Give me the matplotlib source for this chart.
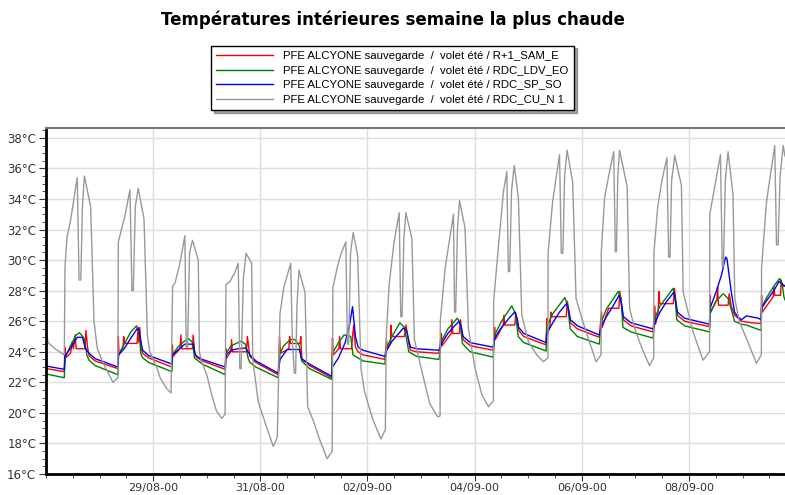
import matplotlib
matplotlib.use('Agg')
import matplotlib.pyplot as plt
from matplotlib.ticker import MultipleLocator, FixedLocator
import numpy as np

# one block per day starting 27/08 00:00 : (hour of the day, temperature)
red_days = [
    [(0, 22.9), (8.2, 22.7), (8.4, 24.3), (8.7, 23.6), (11.0, 23.9), (11.8, 24.65), (12.3, 24.2),
     (13.0, 25.1), (13.5, 24.2), (17.5, 24.2), (17.9, 25.4), (18.6, 24.3), (19.3, 23.75), (22.0, 23.4)],
    [(8.2, 22.9), (8.4, 25.0), (8.7, 23.8), (10.5, 24.3), (10.8, 25.0), (11.2, 24.55), (16.8, 24.55),
     (17.2, 25.6), (17.6, 24.6), (18.0, 25.6), (18.6, 24.2), (19.3, 23.9), (22.0, 23.6)],
    [(8.4, 23.0), (8.6, 24.45), (8.9, 23.7), (12.0, 24.2), (12.4, 25.1), (12.8, 24.2), (17.6, 24.2),
     (17.9, 25.1), (18.7, 23.8), (19.5, 23.65), (22.0, 23.4)],
    [(8.3, 22.85), (8.6, 24.2), (8.9, 23.6), (10.8, 24.0), (11.1, 24.8), (11.5, 24.0), (17.8, 24.0),
     (18.2, 25.0), (19.3, 23.7), (22.0, 23.3)],
    [(8.0, 22.5), (8.6, 25.0), (9.0, 23.9), (12.8, 24.2), (13.1, 25.0), (13.5, 24.55), (17.8, 24.55),
     (18.1, 25.0), (18.6, 23.5), (22.0, 23.1)],
    [(7.9, 22.3), (8.3, 24.9), (8.7, 23.8), (11.2, 24.2), (11.5, 25.0), (11.9, 24.2), (16.8, 24.2),
     (17.8, 25.75), (18.6, 24.3), (19.8, 24.0), (22.0, 23.8)],
    [(7.8, 23.5), (8.5, 24.8), (8.9, 24.2), (10.3, 24.6), (10.5, 25.75), (10.9, 25.0), (16.5, 25.0),
     (17.2, 25.75), (18.7, 24.4), (19.3, 24.1), (22.0, 24.0)],
    [(8.0, 23.9), (9.1, 25.2), (9.4, 24.4), (13.5, 25.2), (13.8, 26.1), (14.2, 25.2), (17.2, 25.2),
     (17.6, 26.1), (18.8, 24.8), (22.0, 24.4)],
    [(8.3, 24.1), (9.0, 25.6), (9.3, 24.8), (12.8, 25.75), (13.1, 26.4), (13.5, 25.75), (18.0, 25.75),
     (18.4, 26.55), (19.7, 25.4), (22.0, 25.0)],
    [(8.0, 24.45), (8.3, 26.2), (8.6, 25.1), (9.8, 25.8), (10.1, 26.6), (10.5, 26.3), (17.0, 26.3),
     (17.5, 27.3), (18.9, 25.9), (22.0, 25.5)],
    [(7.8, 24.95), (8.8, 26.6), (9.1, 25.6), (12.0, 26.85), (16.6, 26.85), (17.0, 27.95), (18.6, 26.1),
     (22.0, 25.7)],
    [(7.9, 25.3), (8.7, 27.0), (9.0, 25.8), (10.2, 26.6), (10.5, 27.95), (10.9, 27.15), (17.0, 27.15),
     (17.5, 28.15), (18.8, 26.4), (22.0, 26.0)],
    [(9.2, 25.65), (9.4, 27.7), (9.7, 26.6), (12.5, 27.4), (12.8, 28.25), (13.2, 27.05), (17.5, 27.05),
     (18.0, 27.8), (18.9, 27.0), (20.4, 26.4), (23.5, 26.0)],
    [(4.0, 25.9), (8.3, 25.85), (8.5, 27.7), (8.8, 26.6), (13.7, 27.6), (14.0, 28.25), (14.4, 27.7),
     (17.0, 27.7), (17.3, 28.7), (17.6, 28.3), (19.0, 28.3)],
]

green_days = [
    [(0, 22.55), (8.2, 22.3), (8.5, 23.6), (11.0, 24.4), (13.5, 25.1), (15.0, 25.25), (17.0, 24.9),
     (18.3, 23.8), (19.3, 23.45), (22.0, 23.1)],
    [(8.2, 22.5), (8.5, 23.8), (11.0, 24.5), (14.0, 25.3), (16.5, 25.7), (17.8, 25.3), (18.4, 23.9),
     (19.3, 23.6), (22.0, 23.3)],
    [(8.4, 22.7), (8.7, 23.8), (11.0, 24.3), (14.0, 24.7), (16.0, 24.85), (17.7, 24.6), (18.5, 23.6),
     (22.0, 23.2)],
    [(8.3, 22.5), (8.6, 23.9), (11.0, 24.4), (15.5, 24.7), (17.3, 24.5), (18.5, 23.6), (19.3, 23.3),
     (22.0, 23.0)],
    [(8.0, 22.3), (8.8, 23.9), (10.5, 24.4), (13.5, 24.8), (15.5, 24.8), (17.5, 24.4), (18.5, 23.4),
     (22.0, 22.9)],
    [(7.9, 22.2), (8.3, 23.9), (11.0, 24.6), (13.5, 25.1), (16.5, 25.0), (17.5, 23.8), (22.0, 23.4)],
    [(7.8, 23.2), (8.6, 24.3), (11.0, 25.0), (14.5, 25.9), (16.5, 25.6), (18.5, 24.0), (22.0, 23.7)],
    [(8.0, 23.5), (9.2, 24.7), (12.0, 25.5), (16.2, 26.2), (17.5, 25.9), (18.5, 24.55), (22.0, 24.0)],
    [(8.3, 23.65), (9.0, 25.1), (12.0, 26.0), (16.6, 27.0), (18.3, 26.5), (19.5, 25.0), (22.0, 24.6)],
    [(8.0, 24.05), (8.3, 25.65), (11.0, 26.5), (16.4, 27.55), (17.7, 27.0), (18.8, 25.5), (22.0, 25.0)],
    [(7.8, 24.5), (8.8, 26.0), (11.0, 26.8), (16.3, 27.95), (17.6, 27.5), (18.4, 25.6), (22.0, 25.3)],
    [(7.9, 24.9), (8.7, 26.2), (11.0, 27.0), (16.9, 28.15), (17.8, 27.6), (18.5, 26.1), (22.0, 25.7)],
    [(9.2, 25.3), (9.4, 26.5), (12.0, 27.3), (15.3, 27.8), (17.5, 27.5), (18.8, 26.85), (20.4, 26.0),
     (23.5, 25.8)],
    [(1.7, 25.75), (8.3, 25.4), (8.5, 26.9), (11.0, 27.6), (14.0, 28.3), (16.6, 28.8), (17.8, 28.4),
     (18.5, 27.6), (19.0, 27.4)],
]

blue_days = [
    [(0, 23.07), (8.2, 22.85), (8.5, 23.7), (11.0, 24.25), (14.0, 24.95), (16.3, 24.95), (17.7, 24.2),
     (19.3, 23.9), (22.0, 23.55)],
    [(8.2, 23.0), (8.5, 23.8), (11.0, 24.2), (14.0, 24.9), (17.0, 25.55), (17.7, 25.4), (18.7, 24.5),
     (19.3, 24.1), (22.0, 23.75)],
    [(8.4, 23.2), (8.7, 23.8), (11.0, 24.1), (14.2, 24.5), (18.0, 24.5), (18.7, 23.9), (19.5, 23.7),
     (22.0, 23.5)],
    [(8.3, 23.0), (8.6, 23.8), (11.0, 24.1), (14.0, 24.2), (17.5, 24.25), (19.3, 23.8), (22.0, 23.4)],
    [(8.0, 22.6), (8.8, 23.5), (12.0, 24.15), (17.5, 24.15), (18.5, 23.55), (22.0, 23.2)],
    [(7.9, 22.4), (8.3, 23.0), (11.0, 23.6), (14.0, 24.6), (16.0, 25.8), (17.3, 26.95), (18.6, 25.0),
     (19.8, 24.3), (22.0, 24.1)],
    [(7.8, 23.7), (8.6, 24.1), (11.0, 24.7), (14.0, 25.2), (16.0, 25.55), (17.5, 25.4), (18.7, 24.6),
     (19.3, 24.3), (22.0, 24.2)],
    [(8.0, 24.1), (9.2, 24.55), (12.0, 25.2), (15.0, 25.7), (17.1, 26.0), (18.0, 25.6), (18.8, 25.0),
     (22.0, 24.6)],
    [(8.3, 24.3), (9.0, 24.9), (12.0, 25.6), (16.0, 26.3), (18.0, 26.6), (19.0, 26.2), (19.7, 25.6),
     (22.0, 25.2)],
    [(8.0, 24.6), (8.3, 25.2), (11.0, 25.9), (14.0, 26.6), (17.1, 27.15), (18.0, 26.8), (18.9, 26.1),
     (22.0, 25.7)],
    [(7.8, 25.1), (8.8, 25.7), (11.0, 26.3), (14.0, 27.0), (16.7, 27.7), (17.6, 27.3), (18.6, 26.3),
     (22.0, 25.9)],
    [(7.9, 25.5), (8.7, 25.9), (11.0, 26.6), (14.0, 27.3), (17.2, 27.9), (17.9, 27.4), (18.8, 26.6),
     (22.0, 26.2)],
    [(9.2, 25.8), (9.4, 26.85), (12.2, 27.95), (14.5, 29.0), (16.4, 30.2), (17.0, 30.1), (18.9, 27.95),
     (20.4, 26.6), (21.8, 26.3), (23.5, 26.1)],
    [(1.7, 26.35), (7.0, 26.2), (8.3, 26.1), (8.5, 26.85), (11.0, 27.4), (14.0, 28.0), (16.3, 28.6),
     (17.3, 28.5), (19.0, 28.3)],
]

gray_days = [
    [(0, 25.3), (1.0, 24.6), (4.0, 24.2), (8.2, 23.8), (8.5, 29.5), (9.4, 31.5), (11.0, 32.6),
     (14.0, 35.4), (14.8, 28.7), (15.6, 28.7), (16.3, 33.5), (17.2, 35.5), (20.0, 33.5), (21.5, 26.0),
     (23.0, 24.2)],
    [(1.2, 23.4), (3.2, 22.8), (6.0, 22.0), (8.2, 22.3), (8.4, 31.2), (11.5, 33.0), (13.6, 34.6),
     (14.5, 28.0), (15.1, 28.0), (16.0, 33.5), (17.3, 34.7), (19.9, 32.7), (21.4, 25.1), (22.5, 24.0)],
    [(1.8, 22.9), (3.1, 22.3), (6.0, 21.6), (8.0, 21.3), (8.7, 28.3), (9.8, 28.5), (12.0, 29.8),
     (14.2, 31.6), (14.8, 24.3), (15.4, 24.3), (16.3, 30.5), (17.6, 31.3), (20.2, 30.0), (20.7, 24.0),
     (21.7, 23.35)],
    [(0.0, 22.5), (2.2, 21.2), (4.4, 20.1), (6.7, 19.65), (8.2, 19.9), (8.6, 28.4), (10.4, 28.6),
     (12.6, 29.2), (14.1, 29.8), (14.8, 22.9), (15.4, 22.9), (16.4, 28.8), (17.6, 30.45), (20.1, 29.8),
     (20.6, 23.5), (23.1, 20.7)],
    [(2.5, 19.2), (5.8, 17.8), (7.6, 18.4), (8.8, 26.5), (10.5, 28.2), (13.6, 29.8), (14.3, 25.0),
     (15.2, 22.6), (15.8, 22.6), (16.4, 27.0), (17.3, 29.35), (20.0, 27.9), (21.2, 20.4), (23.7, 19.5)],
    [(2.7, 18.2), (5.9, 17.0), (8.2, 17.5), (8.5, 28.2), (10.6, 29.6), (12.1, 30.4), (14.3, 31.2),
     (15.0, 24.5), (15.6, 24.5), (16.4, 30.5), (17.6, 31.8), (19.6, 30.3), (21.1, 22.9), (22.5, 21.5)],
    [(2.3, 19.6), (6.0, 18.3), (8.0, 18.9), (8.4, 25.0), (9.7, 28.4), (11.9, 31.2), (14.2, 33.1),
     (14.9, 26.3), (15.5, 26.3), (16.3, 31.5), (17.2, 33.1), (19.9, 31.4), (21.0, 24.8)],
    [(0.9, 22.4), (3.9, 20.6), (7.4, 19.75), (8.5, 19.8), (8.6, 26.0), (10.8, 29.5), (13.0, 31.6),
     (14.5, 33.0), (15.0, 26.6), (15.5, 26.6), (16.3, 32.0), (17.2, 33.9), (19.7, 32.1), (21.2, 25.5)],
    [(0.2, 22.9), (3.2, 21.2), (6.2, 20.4), (8.4, 20.8), (8.5, 27.3), (10.7, 31.0), (12.9, 34.5),
     (14.4, 35.8), (15.1, 29.25), (15.7, 29.25), (16.5, 34.5), (17.7, 36.2), (19.6, 34.05),
     (21.1, 26.4)],
    [(0.1, 24.65), (3.8, 23.8), (6.8, 23.35), (8.8, 23.6), (8.9, 30.5), (10.9, 33.8), (14.0, 36.9),
     (14.8, 30.45), (15.5, 30.45), (16.3, 35.5), (17.4, 37.2), (19.9, 35.1), (21.4, 27.5)],
    [(0.4, 26.0), (3.4, 24.65), (6.4, 23.35), (8.6, 23.8), (8.7, 30.5), (10.2, 34.1), (12.4, 35.8),
     (14.3, 37.1), (15.0, 30.55), (15.5, 30.55), (16.1, 35.5), (16.9, 37.2), (20.3, 34.8), (21.4, 26.85),
     (23.5, 25.6)],
    [(3.0, 24.2), (6.3, 23.1), (8.2, 23.6), (8.3, 30.5), (10.0, 33.5), (12.0, 35.3), (14.1, 36.7),
     (14.9, 30.2), (15.5, 30.2), (16.2, 35.2), (17.6, 36.85), (20.6, 34.9), (21.4, 27.9)],
    [(1.8, 25.3), (6.3, 23.45), (9.2, 24.0), (9.3, 33.0), (14.1, 36.9), (14.9, 29.6), (15.4, 29.6),
     (16.3, 35.3), (17.5, 37.1), (19.7, 34.3), (20.5, 27.5), (22.5, 26.0)],
    [(2.5, 24.6), (6.2, 23.25), (8.4, 23.8), (8.5, 29.5), (10.7, 33.8), (14.4, 37.5), (15.2, 31.0),
     (15.9, 31.0), (16.8, 35.5), (18.2, 37.5), (19.0, 36.8)],
]

labels = [
    'PFE ALCYONE sauvegarde  /  volet été / R+1_SAM_E',
    'PFE ALCYONE sauvegarde  /  volet été / RDC_LDV_EO',
    'PFE ALCYONE sauvegarde  /  volet été / RDC_SP_SO',
    'PFE ALCYONE sauvegarde  /  volet été / RDC_CU_N 1',
]
colors = ['#ff0000', '#008000', '#0000ff', '#999999']

tick_hours = [48, 96, 144, 192, 240, 288]
tick_labels = ['29/08-00', '31/08-00', '02/09-00', '04/09-00', '06/09-00', '08/09-00']


def flatten(days):
    h, t = [], []
    for d, pts in enumerate(days):
        for hh, tt in pts:
            h.append(24 * d + hh)
            t.append(tt)
    return np.array(h), np.array(t)


fig = plt.figure(figsize=(7.85, 4.95), dpi=100)
ax = fig.add_axes([46 / 785, 1 - 474 / 495, 1 - 46 / 785, (474 - 128) / 495])

for days, c, lab in zip([red_days, green_days, blue_days, gray_days], colors, labels):
    h, t = flatten(days)
    ax.plot(h, t, color=c, lw=1.0, label=lab)

ax.set_xlim(0, 331)
ax.set_ylim(16, 38.65)

ax.yaxis.set_major_locator(FixedLocator(np.arange(16, 39, 2)))
ax.yaxis.set_minor_locator(MultipleLocator(0.5))
ax.set_yticklabels(['%d°C' % v for v in np.arange(16, 39, 2)])
ax.xaxis.set_major_locator(FixedLocator(tick_hours))
ax.xaxis.set_minor_locator(MultipleLocator(12))
ax.set_xticklabels(tick_labels)

ax.grid(True, which='major', color='#dedede', lw=1)
ax.set_axisbelow(True)
ax.tick_params(which='both', direction='out', colors='#333333', labelsize=8.5)
ax.tick_params(which='major', length=5)
ax.tick_params(which='minor', length=3)
ax.tick_params(axis='x', pad=1.5, labelsize=8)
ax.tick_params(axis='y', pad=2)

ax.spines['left'].set_linewidth(2)
ax.spines['bottom'].set_linewidth(2)
ax.spines['right'].set_visible(False)
ax.spines['top'].set_color('#777777')
ax.spines['top'].set_linewidth(1.5)

fig.text(0.5, 1 - 20 / 495, 'Températures intérieures semaine la plus chaude',
         ha='center', va='center', fontsize=12, fontweight='bold')

leg = fig.legend(loc='upper center', bbox_to_anchor=(0.5, 1 - 40 / 495), ncol=1,
                 prop={'family': 'Liberation Sans', 'size': 8.2},
                 handlelength=5.0, handletextpad=0.9, labelspacing=0.42,
                 borderpad=0.45, frameon=True, fancybox=False, shadow=True)
leg.get_frame().set_edgecolor('black')
leg.get_frame().set_linewidth(1.0)

fig.savefig('out.png', dpi=100)
